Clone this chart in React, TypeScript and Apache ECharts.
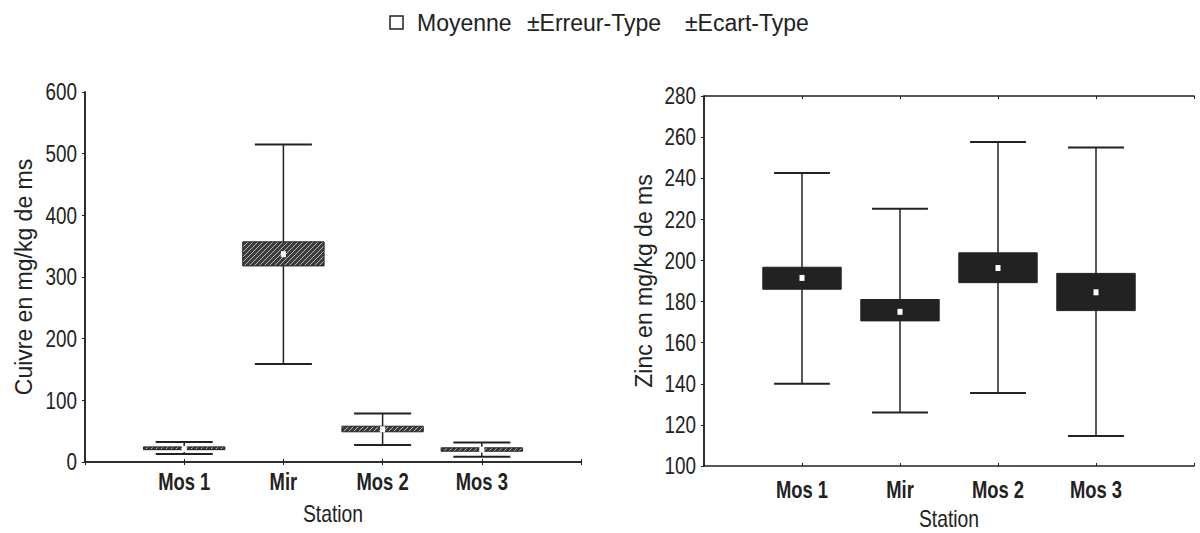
import React, { useEffect, useRef } from 'react';
import * as echarts from 'echarts';

const stations = ['Mos 1', 'Mir', 'Mos 2', 'Mos 3'];

// Cuivre (mg/kg de ms)
const cuMean = [21, 337, 53, 20];
const cuSeLow = [20, 318, 49, 17.5];
const cuSeHigh = [24.5, 357, 58, 23];
const cuSdLow = [13, 159, 27.5, 8.5];
const cuSdHigh = [32.5, 515, 78.5, 31.5];

// Zinc (mg/kg de ms)
const znMean = [191.5, 175, 196.3, 184.5];
const znSeLow = [186, 170.6, 189.2, 175.6];
const znSeHigh = [196.7, 181, 203.7, 193.7];
const znSdLow = [140, 126, 135.5, 114.6];
const znSdHigh = [242.6, 225.2, 257.6, 255];

// tick labels
const cuTicks = [0, 100, 200, 300, 400, 500, 600];
const znTicks = [100, 120, 140, 160, 180, 200, 220, 240, 260, 280];

const legendItems = ['Moyenne', '±Erreur-Type', '±Ecart-Type'];
const legendX = [417, 527, 685];

const REG = "'Liberation Sans', Arial, sans-serif";
const INK = '#222';
const NARROW_SCALE = 0.82;

function buildData(mean: number[], seL: number[], seH: number[], sdL: number[], sdH: number[]) {
  return mean.map((m, i) => [i + 1, m, seL[i], seH[i], sdL[i], sdH[i]]);
}

function makeHatch(): HTMLCanvasElement {
  const c = document.createElement('canvas');
  const s = 5;
  c.width = s;
  c.height = s;
  const ctx = c.getContext('2d')!;
  ctx.fillStyle = '#3c3c3c';
  ctx.fillRect(0, 0, s, s);
  ctx.strokeStyle = '#b8b8b8';
  ctx.lineWidth = 1;
  ctx.beginPath();
  ctx.moveTo(0, s);
  ctx.lineTo(s, 0);
  ctx.moveTo(-1, 1);
  ctx.lineTo(1, -1);
  ctx.moveTo(s - 1, s + 1);
  ctx.lineTo(s + 1, s - 1);
  ctx.stroke();
  return c;
}

function makeRenderItem(fill: any, boxW: number, capW: number) {
  return (params: any, api: any) => {
    const i = api.value(0);
    const mean = api.value(1);
    const pMean = api.coord([i, mean]);
    const x = pMean[0];
    const ySeL = api.coord([i, api.value(2)])[1];
    const ySeH = api.coord([i, api.value(3)])[1];
    const ySdL = api.coord([i, api.value(4)])[1];
    const ySdH = api.coord([i, api.value(5)])[1];
    const bw = api.size([boxW, 0])[0];
    const cw = api.size([capW, 0])[0];
    return {
      type: 'group',
      children: [
        { type: 'line', shape: { x1: x, y1: ySdH, x2: x, y2: ySdL }, style: { stroke: INK, lineWidth: 1.5 } },
        { type: 'line', shape: { x1: x - cw / 2, y1: ySdH, x2: x + cw / 2, y2: ySdH }, style: { stroke: INK, lineWidth: 2 } },
        { type: 'line', shape: { x1: x - cw / 2, y1: ySdL, x2: x + cw / 2, y2: ySdL }, style: { stroke: INK, lineWidth: 2 } },
        {
          type: 'rect',
          shape: { x: x - bw / 2, y: ySeH, width: bw, height: Math.max(ySeL - ySeH, 2) },
          style: { fill, stroke: INK, lineWidth: 1 },
        },
        {
          type: 'rect',
          shape: { x: x - 2.5, y: pMean[1] - 3, width: 5, height: 6 },
          style: { fill: '#fff', stroke: null },
        },
      ],
    };
  };
}

export default function App() {
  const ref = useRef<HTMLDivElement>(null);
  useEffect(() => {
    if (!ref.current) return;
    const chart = echarts.init(ref.current, null, { renderer: 'svg' });
    const hatch = { image: makeHatch(), repeat: 'repeat' };

    const xAxisBase = (gridIndex: number, position: string) => ({
      type: 'value',
      gridIndex,
      position,
      min: 0,
      max: 5,
      interval: 1,
      splitLine: { show: false },
      axisLine: { show: true, lineStyle: { color: INK, width: 1.5 } },
      axisTick: { show: true, inside: true, length: 3, lineStyle: { color: INK } },
      axisLabel: { show: false },
    });
    const yAxisBase = (gridIndex: number, ticks: number[], name: string, nameGap: number) => ({
      type: 'value',
      gridIndex,
      min: ticks[0],
      max: ticks[ticks.length - 1],
      interval: ticks[1] - ticks[0],
      splitLine: { show: false },
      axisLine: { show: true, lineStyle: { color: INK, width: 1.5 } },
      axisTick: { show: true, inside: false, length: 3, lineStyle: { color: INK } },
      axisLabel: { show: false },
      name,
      nameLocation: 'middle',
      nameRotate: 90,
      nameGap,
      nameTextStyle: { color: INK, fontFamily: REG, fontSize: 23 },
    });
    const yAxisRight = (gridIndex: number, ticks: number[]) => ({
      type: 'value',
      gridIndex,
      position: 'right',
      min: ticks[0],
      max: ticks[ticks.length - 1],
      interval: ticks[1] - ticks[0],
      splitLine: { show: false },
      axisLine: { show: true, lineStyle: { color: INK, width: 1.5 } },
      axisTick: { show: true, inside: true, length: 3, lineStyle: { color: INK } },
      axisLabel: { show: false },
    });

    const legendGraphics = [
      {
        type: 'rect',
        shape: { x: 390, y: 16, width: 13, height: 13 },
        style: { fill: '#fff', stroke: INK, lineWidth: 1.5 },
      },
      ...legendItems.map((t, k) => ({
        type: 'text',
        x: legendX[k],
        y: 23,
        style: { text: t, fill: INK, font: `23px ${REG}`, verticalAlign: 'middle' },
      })),
    ];

    chart.setOption({
      animation: false,
      backgroundColor: '#fff',
      grid: [
        { left: 85, top: 92, width: 496, height: 370, show: false },
        { left: 704, top: 96, width: 490, height: 370, show: false },
      ],
      xAxis: [xAxisBase(0, 'bottom'), xAxisBase(1, 'bottom'), xAxisBase(0, 'top'), xAxisBase(1, 'top')],
      yAxis: [
        yAxisBase(0, cuTicks, 'Cuivre en mg/kg de ms', 50),
        yAxisBase(1, znTicks, 'Zinc en mg/kg de ms', 49),
        yAxisRight(0, cuTicks),
        yAxisRight(1, znTicks),
      ],
      series: [
        {
          type: 'custom',
          xAxisIndex: 0,
          yAxisIndex: 0,
          renderItem: makeRenderItem(hatch, 0.82, 0.575),
          encode: { x: 0, y: [1, 2, 3, 4, 5] },
          data: buildData(cuMean, cuSeLow, cuSeHigh, cuSdLow, cuSdHigh),
        },
        {
          type: 'custom',
          xAxisIndex: 1,
          yAxisIndex: 1,
          renderItem: makeRenderItem('#222', 0.8, 0.57),
          encode: { x: 0, y: [1, 2, 3, 4, 5] },
          data: buildData(znMean, znSeLow, znSeHigh, znSdLow, znSdHigh),
        },
      ],
    });

    // Axis texts in a condensed look, placed through the axes' own scales
    const texts: any[] = [];
    const panels = [
      { idx: 0, ticks: cuTicks, catDy: 20, nameDy: 52 },
      { idx: 1, ticks: znTicks, catDy: 24, nameDy: 53 },
    ];
    panels.forEach((p) => {
      const finder = { xAxisIndex: p.idx, yAxisIndex: p.idx };
      const y0 = p.ticks[0];
      p.ticks.forEach((v) => {
        const [px, py] = chart.convertToPixel(finder, [0, v]) as number[];
        texts.push({
          type: 'text',
          x: px - 8,
          y: py,
          scaleX: NARROW_SCALE,
          style: { text: String(v), fill: INK, font: `23px ${REG}`, align: 'right', verticalAlign: 'middle' },
        });
      });
      stations.forEach((s, k) => {
        const [px, py] = chart.convertToPixel(finder, [k + 1, y0]) as number[];
        texts.push({
          type: 'text',
          x: px,
          y: py + p.catDy,
          scaleX: 0.8,
          style: { text: s, fill: INK, font: `bold 23px ${REG}`, align: 'center', verticalAlign: 'middle' },
        });
      });
      const [cx, cy] = chart.convertToPixel(finder, [2.5, y0]) as number[];
      texts.push({
        type: 'text',
        x: cx,
        y: cy + p.nameDy,
        scaleX: 0.84,
        style: { text: 'Station', fill: INK, font: `23px ${REG}`, align: 'center', verticalAlign: 'middle' },
      });
    });

    chart.setOption({ graphic: [...legendGraphics, ...texts] });
    return () => chart.dispose();
  }, []);
  return (
    <div
      ref={ref}
      style={{ position: 'absolute', left: 0, top: 0, width: 1200, height: 533 }}
    />
  );
}
